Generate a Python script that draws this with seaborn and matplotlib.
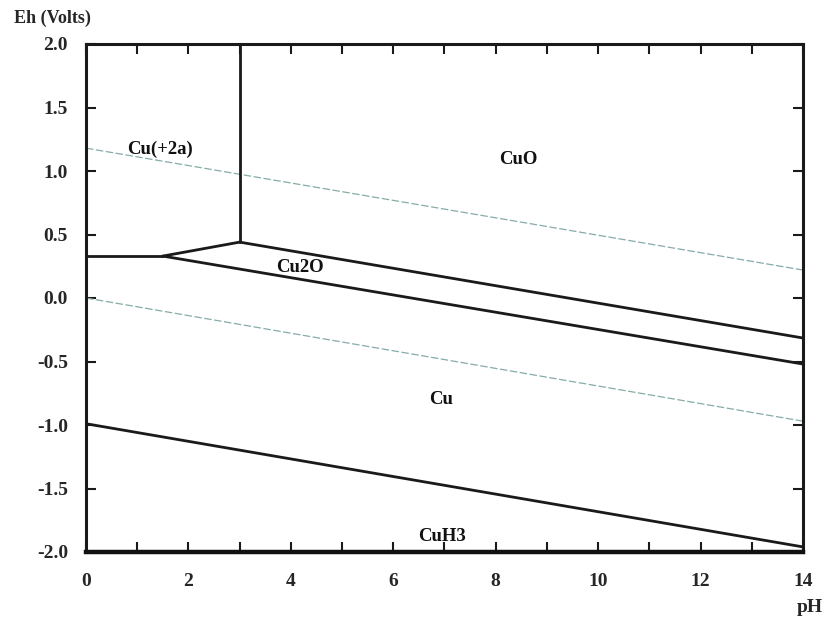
import matplotlib
matplotlib.use("Agg")
import matplotlib.pyplot as plt
import seaborn as sns
import pandas as pd

sns.set_theme(style="white")
plt.rcParams['font.family'] = ['Liberation Serif', 'DejaVu Serif']
plt.rcParams['font.weight'] = 'bold'

# Stability-field boundaries (pH, Eh) segments
seg_ph = [[3, 3], [0, 1.5], [1.5, 3], [3, 14], [1.5, 14], [0, 14]]
seg_eh = [[2.0, 0.44], [0.33, 0.33], [0.33, 0.44], [0.44, -0.315], [0.33, -0.52], [-0.99, -1.96]]

# Water stability lines
water_ph = [0, 14]
water_upper = [1.18, 0.22]
water_lower = [0.0, -0.97]

# Field labels
labels = ["Cu(+2a)", "CuO", "Cu2O", "Cu", "CuH3"]
label_ph = [1.45, 8.44, 4.18, 6.93, 6.95]
label_eh = [1.17, 1.09, 0.24, -0.80, -1.88]

x_ticks = [0, 2, 4, 6, 8, 10, 12, 14]
y_ticks = [-2.0, -1.5, -1.0, -0.5, 0.0, 0.5, 1.0, 1.5, 2.0]

fig = plt.figure(figsize=(8.25, 6.17), dpi=100)
ax = fig.add_axes([86/825, 1-552/617, (803-86)/825, (552-44)/617])
ax.set_facecolor("white")

for i, (px, ey) in enumerate(zip(seg_ph, seg_eh)):
    df = pd.DataFrame({"pH": px, "Eh": ey})
    sns.lineplot(data=df, x="pH", y="Eh", ax=ax, color="#1a1a1a", lw=2.0,
                 sort=False, estimator=None, zorder=3)

for wy in (water_upper, water_lower):
    df = pd.DataFrame({"pH": water_ph, "Eh": wy})
    sns.lineplot(data=df, x="pH", y="Eh", ax=ax, color="#86acaa", lw=0.9,
                 sort=False, estimator=None, linestyle=(0, (6, 2)), zorder=2)

for t, px, ey in zip(labels, label_ph, label_eh):
    ax.text(px, ey, t, ha="center", va="center", fontsize=13.5, fontweight="bold",
            color="#111111", zorder=5)

ax.set_xlim(0, 14)
ax.set_ylim(-2.0, 2.0)
ax.set_xticks(x_ticks)
ax.set_xticklabels([str(v) for v in x_ticks])
ax.set_xticks(list(range(0, 15)), minor=True)
ax.set_yticks(y_ticks)
ax.set_yticklabels(["%.1f" % v for v in y_ticks])
ax.set_xlabel("")
ax.set_ylabel("")

ax.tick_params(axis="both", which="both", direction="in", color="#1a1a1a",
               top=True, right=True, bottom=True, left=True, width=1.5)
ax.tick_params(axis="both", which="major", length=7, labelsize=14)
ax.tick_params(axis="both", which="minor", length=7)
ax.tick_params(axis="x", which="major", pad=15)
ax.tick_params(axis="y", which="major", pad=13)
for lab in ax.get_xticklabels() + ax.get_yticklabels():
    lab.set_fontweight("bold")

for side in ["left", "right", "top"]:
    ax.spines[side].set_linewidth(2.2)
    ax.spines[side].set_color("#1a1a1a")
ax.spines["bottom"].set_linewidth(3.2)
ax.spines["bottom"].set_color("#111111")

fig.text(52/825, 1-18/617, "Eh (Volts)", ha="center", va="center",
         fontsize=13, fontweight="bold")
fig.text(810/825, 1-607/617, "pH", ha="center", va="center",
         fontsize=14, fontweight="bold")

fig.savefig("out.png", dpi=100, facecolor="white")
